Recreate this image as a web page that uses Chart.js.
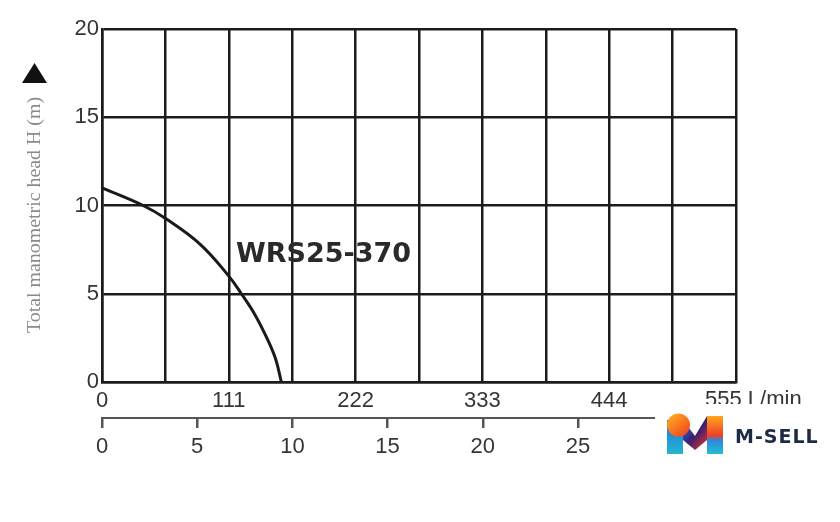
<!DOCTYPE html>
<html>
<head>
<meta charset="utf-8">
<script src="https://cdn.jsdelivr.net/npm/chart.js@4.4.1/dist/chart.umd.min.js"></script>
<style>
  html, body { margin: 0; padding: 0; background: #fff; }
  #wrap { width: 840px; height: 522px; }
</style>
</head>
<body>
<div id="wrap"><canvas id="chart" width="840" height="522"></canvas></div>
<script>
// flow in L/min vs total head in m
const flowLmin = [0, 36, 56, 86, 111, 122, 134, 145, 152, 157];
const headM = [11, 10, 9.25, 7.8, 6.0, 5.0, 3.8, 2.4, 1.3, 0];
const headTicks = [0, 5, 10, 15, 20];
const flowTicks = [0, 111, 222, 333, 444, 555];
const flowM3hTicks = [0, 5, 10, 15, 20, 25, 30];
const modelName = 'WRS25-370';
const yTitle = 'Total manometric head H (m)';
const flowUnit = 'L/min';

const gridCol = '#1c1c1c';
const tickCol = '#353535';
const tickFont = { family: 'Liberation Sans, Arial', size: 22 };

const points = flowLmin.map((x, i) => ({ x: x, y: headM[i] }));
const lastFlow = flowTicks[flowTicks.length - 1];

const extras = {
  id: 'extras',
  afterDraw(chart) {
    const ctx = chart.ctx;
    ctx.save();

    // model label
    ctx.fillStyle = '#2a2a2a';
    ctx.font = 'bold 27px "DejaVu Sans"';
    ctx.textBaseline = 'alphabetic';
    ctx.textAlign = 'left';
    ctx.fillText(modelName, 236, 262);

    // last top tick with its unit
    ctx.fillStyle = tickCol;
    ctx.font = '22px "Liberation Sans"';
    ctx.fillText(lastFlow + ' ' + flowUnit, 705, 406);

    // rotated y title, squeezed to the reference length
    ctx.save();
    ctx.translate(40, 333);
    ctx.rotate(-Math.PI / 2);
    ctx.font = '19px "Liberation Serif"';
    const w = ctx.measureText(yTitle).width;
    ctx.scale(236 / w, 1);
    ctx.fillStyle = '#8a8a8a';
    ctx.fillText(yTitle, 0, 0);
    ctx.restore();

    // arrow head
    ctx.fillStyle = '#111';
    ctx.beginPath();
    ctx.moveTo(34.5, 63);
    ctx.lineTo(47, 83);
    ctx.lineTo(22, 83);
    ctx.closePath();
    ctx.fill();

    // logo block
    ctx.fillStyle = '#fff';
    ctx.fillRect(655, 404, 185, 62);
    drawLogo(ctx);
    ctx.restore();
  }
};

function drawLogo(ctx) {
  let g;
  ctx.save();
  ctx.beginPath();
  ctx.moveTo(667, 454);
  ctx.lineTo(667, 420);
  ctx.lineTo(683, 420);
  ctx.lineTo(695, 436);
  ctx.lineTo(707, 416);
  ctx.lineTo(723, 416);
  ctx.lineTo(723, 454);
  ctx.lineTo(707, 454);
  ctx.lineTo(707, 440);
  ctx.lineTo(695, 450);
  ctx.lineTo(683, 440);
  ctx.lineTo(683, 454);
  ctx.closePath();
  ctx.clip();
  // left leg
  g = ctx.createLinearGradient(0, 420, 0, 455);
  g.addColorStop(0, '#2a6fd6');
  g.addColorStop(1, '#22b8d0');
  ctx.fillStyle = g;
  ctx.fillRect(667, 414, 16, 42);
  // middle
  g = ctx.createLinearGradient(683, 425, 707, 445);
  g.addColorStop(0, '#3b63d0');
  g.addColorStop(0.5, '#3a1f6e');
  g.addColorStop(1, '#d8322e');
  ctx.fillStyle = g;
  ctx.fillRect(683, 414, 24, 42);
  // right leg
  g = ctx.createLinearGradient(0, 416, 0, 455);
  g.addColorStop(0, '#ffa81c');
  g.addColorStop(0.5, '#ef3f2a');
  g.addColorStop(0.62, '#2f86da');
  g.addColorStop(1, '#22c2cf');
  ctx.fillStyle = g;
  ctx.fillRect(707, 414, 16, 42);
  ctx.restore();
  // ball
  g = ctx.createLinearGradient(670, 414, 688, 436);
  g.addColorStop(0, '#ffae22');
  g.addColorStop(1, '#f0401e');
  ctx.fillStyle = g;
  ctx.beginPath();
  ctx.arc(678.5, 425, 11.5, 0, Math.PI * 2);
  ctx.fill();
  // name
  ctx.fillStyle = '#1f2b45';
  ctx.font = 'bold 19px "DejaVu Sans"';
  ctx.letterSpacing = '1px';
  ctx.textAlign = 'left';
  ctx.fillText('M-SELL', 735, 443);
  ctx.letterSpacing = '0px';
}

new Chart(document.getElementById('chart'), {
  type: 'line',
  data: {
    datasets: [{
      data: points,
      borderColor: '#1a1a1a',
      borderWidth: 3,
      pointRadius: 0,
      fill: false,
      tension: 0.4,
      xAxisID: 'x',
      yAxisID: 'y'
    }]
  },
  options: {
    responsive: false,
    animation: false,
    events: [],
    layout: { padding: { left: 0, right: 104, top: 29, bottom: 44 } },
    plugins: { legend: { display: false }, tooltip: { enabled: false } },
    scales: {
      y: {
        type: 'linear',
        min: 0, max: 20,
        afterFit: s => { s.width = 102; },
        afterBuildTicks: s => { s.ticks = headTicks.map(v => ({ value: v })); },
        grid: { color: gridCol, lineWidth: 2.5, drawTicks: false },
        border: { color: gridCol, width: 2.5 },
        ticks: { color: tickCol, font: tickFont, padding: 3 }
      },
      x: {
        type: 'linear',
        position: 'bottom',
        weight: 0,
        min: 0, max: lastFlow,
        afterFit: s => { s.height = 36; },
        afterBuildTicks: s => {
          const t = [];
          for (let i = 0; i < flowTicks.length; i++) {
            t.push({ value: flowTicks[i] });
            if (i < flowTicks.length - 1) t.push({ value: (flowTicks[i] + flowTicks[i + 1]) / 2 });
          }
          s.ticks = t;
        },
        grid: { color: gridCol, lineWidth: 2.5, drawTicks: false },
        border: { color: gridCol, width: 2.5 },
        ticks: {
          color: tickCol, font: tickFont, padding: 6, autoSkip: false, maxRotation: 0,
          callback: v => (flowTicks.includes(v) && v !== lastFlow ? String(v) : '')
        }
      },
      x2: {
        type: 'linear',
        position: 'bottom',
        weight: 1,
        min: 0, max: lastFlow / (1000 / 60),
        afterFit: s => { s.height = 60; },
        afterBuildTicks: s => { s.ticks = flowM3hTicks.map(v => ({ value: v })); },
        grid: { drawOnChartArea: false, drawTicks: true, tickLength: 10, color: '#555', lineWidth: 2.5 },
        border: { color: '#555', width: 2 },
        ticks: { color: tickCol, font: tickFont, padding: 6, autoSkip: false, maxRotation: 0 }
      }
    }
  },
  plugins: [extras]
});
</script>
</body>
</html>
